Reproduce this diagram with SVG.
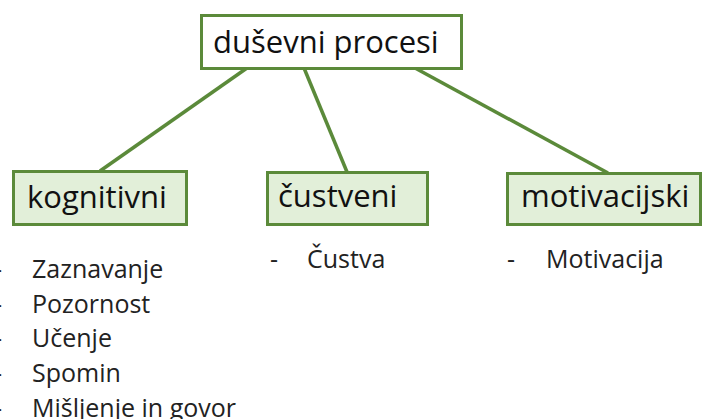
<svg xmlns="http://www.w3.org/2000/svg" width="704" height="419" viewBox="0 0 704 419">
<style>
.box{stroke:#5b8a3a;stroke-width:3}
.root{fill:#ffffff}
.child{fill:#e2efd9}
.lbl{font-family:"Open Sans","Liberation Sans",sans-serif;fill:#111;font-size:31px}
.item{font-family:"Open Sans","Liberation Sans",sans-serif;fill:#222;font-size:25px}
.conn{stroke:#5b8a3a;stroke-width:3.5;fill:none}
</style>
<rect width="704" height="419" fill="#ffffff"/>
<g id="connectors">
<line class="conn" x1="247" y1="68" x2="100" y2="171"/>
<line class="conn" x1="304" y1="68" x2="347" y2="172"/>
<line class="conn" x1="415" y1="68" x2="608" y2="173"/>
</g>
<g id="root">
<rect class="box root" x="201.5" y="15.5" width="260" height="53"/>
<text class="lbl" x="213" y="53">duševni procesi</text>
</g>
<g id="kognitivni">
<rect class="box child" x="13.5" y="171.5" width="173" height="53"/>
<text class="lbl" x="27" y="208">kognitivni</text>
<text class="item" x="-6" y="278">-</text>
<text class="item" x="32" y="278">Zaznavanje</text>
<text class="item" x="-6" y="313">-</text>
<text class="item" x="32" y="313">Pozornost</text>
<text class="item" x="-6" y="347">-</text>
<text class="item" x="32" y="347">Učenje</text>
<text class="item" x="-6" y="382">-</text>
<text class="item" x="32" y="382">Spomin</text>
<text class="item" x="-6" y="417">-</text>
<text class="item" x="32" y="417">Mišljenje in govor</text>
</g>
<g id="custveni">
<rect class="box child" x="267.5" y="172.5" width="160" height="52"/>
<text class="lbl" x="278" y="207">čustveni</text>
<text class="item" x="270" y="268">-</text>
<text class="item" x="307" y="268">Čustva</text>
</g>
<g id="motivacijski">
<rect class="box child" x="507.5" y="173.5" width="193" height="51"/>
<text class="lbl" x="521" y="207">motivacijski</text>
<text class="item" x="507" y="268">-</text>
<text class="item" x="546" y="268">Motivacija</text>
</g>
</svg>
